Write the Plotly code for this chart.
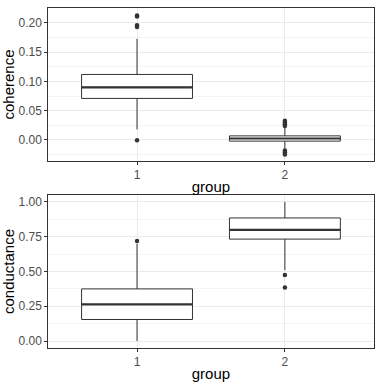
import plotly.graph_objs as go
from plotly.subplots import make_subplots

# box stats (group 1, group 2)
groups = [1, 2]

coh_q1 = [0.071, -0.002]
coh_median = [0.090, 0.0025]
coh_q3 = [0.112, 0.007]
coh_lower = [0.018, -0.015]
coh_upper = [0.173, 0.022]
coh_out_x = [1, 1, 1, 1, 1, 2, 2, 2, 2, 2, 2, 2]
coh_out_y = [0.213, 0.211, 0.196, 0.193, -0.0005, 0.024, 0.027, 0.030, 0.033, -0.018, -0.021, -0.025]

cond_q1 = [0.155, 0.733]
cond_median = [0.263, 0.800]
cond_q3 = [0.375, 0.885]
cond_lower = [0.0, 0.51]
cond_upper = [0.70, 1.0]
cond_out_x = [1, 2, 2]
cond_out_y = [0.72, 0.475, 0.385]

box_w = 0.75
ink = "#333333"

fig = make_subplots(rows=2, cols=1)


def add_panel(row, q1, med, q3, lo, hi, ox, oy):
    fig.add_trace(go.Box(x=groups, q1=q1, median=med, q3=q3,
                         lowerfence=lo, upperfence=hi,
                         width=box_w, whiskerwidth=0,
                         fillcolor="white", line=dict(color=ink, width=1),
                         boxpoints=False, showlegend=False, hoverinfo="skip"),
                  row=row, col=1)
    # thicker median line, like ggplot
    for g, m in zip(groups, med):
        fig.add_trace(go.Scatter(x=[g - box_w / 2, g + box_w / 2], y=[m, m],
                                 mode="lines", line=dict(color=ink, width=2.2),
                                 showlegend=False, hoverinfo="skip"),
                      row=row, col=1)
    fig.add_trace(go.Scatter(x=ox, y=oy, mode="markers",
                             marker=dict(color=ink, size=4.5),
                             showlegend=False, hoverinfo="skip"),
                  row=row, col=1)


add_panel(1, coh_q1, coh_median, coh_q3, coh_lower, coh_upper, coh_out_x, coh_out_y)
add_panel(2, cond_q1, cond_median, cond_q3, cond_lower, cond_upper, cond_out_x, cond_out_y)

axis_common = dict(showline=True, mirror=True, linecolor=ink, linewidth=1,
                   gridcolor="#EBEBEB", gridwidth=1, zeroline=False,
                   ticks="outside", ticklen=3, tickcolor=ink,
                   tickfont=dict(size=12, color="#4D4D4D"))

fig.update_xaxes(**axis_common, tickvals=groups, ticktext=["1", "2"],
                 range=[0.4, 2.6], domain=[0.1265, 0.978],
                 title=dict(text="group", font=dict(size=15, color="black"), standoff=0))
fig.update_yaxes(**axis_common, tickformat=".2f",
                 title=dict(font=dict(size=15, color="black"), standoff=4))

fig.update_yaxes(range=[-0.036, 0.2256], dtick=0.05, tick0=0,
                 minor=dict(dtick=0.025, showgrid=True, gridcolor="#F4F4F4", gridwidth=0.6),
                 domain=[0.5785, 0.979], title_text="coherence", row=1, col=1)
fig.update_yaxes(range=[-0.05, 1.05], dtick=0.25, tick0=0,
                 minor=dict(dtick=0.125, showgrid=True, gridcolor="#F4F4F4", gridwidth=0.6),
                 domain=[0.089, 0.4895], title_text="conductance", row=2, col=1)

fig.update_layout(width=382, height=382, margin=dict(l=0, r=0, t=0, b=0),
                  paper_bgcolor="white", plot_bgcolor="white",
                  font=dict(family="Liberation Sans, Arial, sans-serif"))

# drop the browser's default body margin so the figure sits at the corner
fig.write_html("out.html", config={"displayModeBar": False},
               post_script="document.body.style.margin='0';")
